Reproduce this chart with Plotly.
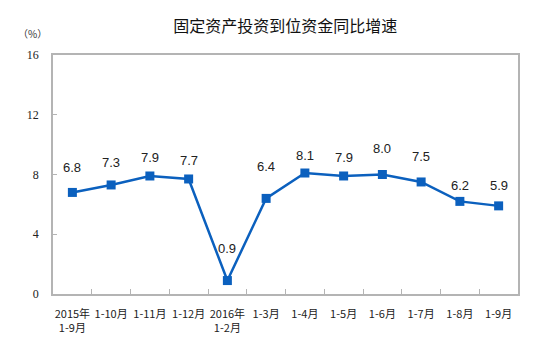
import plotly.graph_objects as go

categories = ["2015年<br>1-9月", "1-10月", "1-11月", "1-12月", "2016年<br>1-2月", "1-3月",
              "1-4月", "1-5月", "1-6月", "1-7月", "1-8月", "1-9月"]
values = [6.8, 7.3, 7.9, 7.7, 0.9, 6.4, 8.1, 7.9, 8.0, 7.5, 6.2, 5.9]
y_ticks = [0, 4, 8, 12, 16]
label_offsets = [25, 22, 18, 18, 32, 32, 18, 18, 26, 25, 16, 20]

W, H = 543, 353
L, R, T, B = 52.5, 25, 55, 59
line_color = "#0B60BE"
axis_color = "#B4B4B4"

fig = go.Figure()
fig.add_trace(go.Scatter(
    x=categories, y=values, mode="lines+markers",
    line=dict(color=line_color, width=2.5),
    marker=dict(symbol="square", size=9, color=line_color),
    hoverinfo="skip", showlegend=False,
))

for c, v, off in zip(categories, values, label_offsets):
    fig.add_annotation(x=c, y=v, xref="x", yref="y", text=f"{v:.1f}",
                       showarrow=False, yshift=off,
                       font=dict(family="Liberation Sans, Arial", size=13, color="#222222"))

fig.add_annotation(x=(32 - L) / (W - L - R), y=1 + (T - 33) / (H - T - B),
                   xref="paper", yref="paper", text="（%）", xanchor="center", yanchor="middle",
                   showarrow=False, font=dict(family="Noto Sans CJK SC", size=10, color="#333333"))

fig.update_layout(
    width=W, height=H,
    margin=dict(l=L, r=R, t=T, b=B, pad=0),
    paper_bgcolor="white", plot_bgcolor="white",
    title=dict(text="固定资产投资到位资金同比增速", x=(L + (W - R)) / 2 / W, xanchor="center",
               y=1 - 26 / H, yanchor="middle",
               font=dict(family="Noto Sans CJK SC", size=16, color="#111111")),
    xaxis=dict(
        type="category", showgrid=False, zeroline=False,
        showline=True, linecolor=axis_color, linewidth=1.5, mirror=True,
        ticks="inside", tickson="boundaries", ticklen=5, tickcolor=axis_color, tickwidth=1,
        tickangle=0, ticklabelstandoff=9,
        tickfont=dict(family="Noto Sans CJK SC", size=11, color="#222222"),
        range=[-0.5, len(categories) - 0.5],
    ),
    yaxis=dict(
        range=[y_ticks[0], y_ticks[-1]], tickvals=y_ticks, ticktext=[str(t) for t in y_ticks],
        showgrid=False, zeroline=False,
        showline=True, linecolor=axis_color, linewidth=1.5, mirror=True,
        ticks="inside", ticklen=4, tickcolor=axis_color, tickwidth=1,
        tickfont=dict(family="Liberation Serif, Times New Roman", size=12, color="#222222"),
        ticklabelstandoff=10,
    ),
)

fig.write_html("out.html")
